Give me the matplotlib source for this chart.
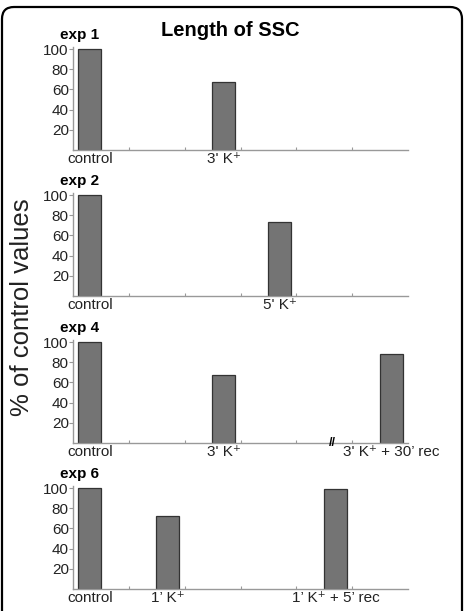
import numpy as np
import matplotlib
matplotlib.use('Agg')
import matplotlib.pyplot as plt
from matplotlib.patches import FancyBboxPatch

plt.rcParams['font.family'] = ['Liberation Sans', 'DejaVu Sans']

# data
exp_names = ['exp 1', 'exp 2', 'exp 4', 'exp 6']
exp_pos = [[0.3, 2.7], [0.3, 3.7], [0.3, 2.7, 5.7], [0.3, 1.7, 4.7]]
exp_vals = [[100, 67], [100, 73], [100, 67, 88], [100, 72, 99]]
exp_labels = [['control', "3' K\u207a"],
              ['control', "5' K\u207a"],
              ['control', "3' K\u207a", "3' K\u207a + 30\u2019 rec"],
              ['control', "1\u2019 K\u207a", "1\u2019 K\u207a + 5\u2019 rec"]]
yticks = [20, 40, 60, 80, 100]

W, H = 465, 611
fig = plt.figure(figsize=(W/100, H/100), dpi=100)

# rounded frame
frame = FancyBboxPatch((0.02, -0.5), 4.6, 6.54, boxstyle='round,pad=0,rounding_size=0.12',
                       transform=fig.dpi_scale_trans, fc='none', ec='black', lw=1.6)
fig.patches.append(frame)

# baseline pixel rows of each panel
baselines = [150, 296, 443, 589]
left, right = 73, 408
gray = '#999999'

for i in range(4):
    top = baselines[i] - 103
    ax = fig.add_axes([left/W, 1 - baselines[i]/H, (right-left)/W, 103/H])
    ax.bar(exp_pos[i], exp_vals[i], width=0.41, color='#747474', edgecolor='#333333', lw=0.9)
    ax.set_xlim(0, 6)
    ax.set_ylim(0, 102)
    for s in ['top', 'right']:
        ax.spines[s].set_visible(False)
    for s in ['left', 'bottom']:
        ax.spines[s].set_color(gray)
        ax.spines[s].set_linewidth(1.0)
    ax.set_xticks([1, 2, 3, 4, 5])
    ax.set_xticklabels([])
    ax.tick_params(axis='x', direction='in', length=2.5, color=gray)
    ax.set_yticks(yticks)
    ax.set_yticklabels([str(t) for t in yticks], fontsize=11, color='#222222')
    ax.tick_params(axis='y', direction='out', length=3, color=gray, pad=0)
    for x, lab in zip(exp_pos[i], exp_labels[i]):
        ax.text(x, -0.015, lab, transform=ax.get_xaxis_transform(), ha='center', va='top',
                fontsize=11, color='#222222')
    fig.text(60/W, 1 - (top - 12)/H, exp_names[i], fontsize=11, fontweight='bold',
             ha='left', va='center')
    if i == 2:
        ax.text(4.64, 0, '//', transform=ax.get_xaxis_transform(), ha='center', va='center',
                fontsize=9, fontweight='bold', clip_on=False)

fig.text(230/W, 1 - 31/H, 'Length of SSC', fontsize=14.5, fontweight='bold',
         ha='center', va='center')
fig.text(22/W, 1 - 307/H, '% of control values', fontsize=18.5, rotation=90,
         ha='center', va='center', color='#222222')

fig.savefig('out.png', dpi=100)
